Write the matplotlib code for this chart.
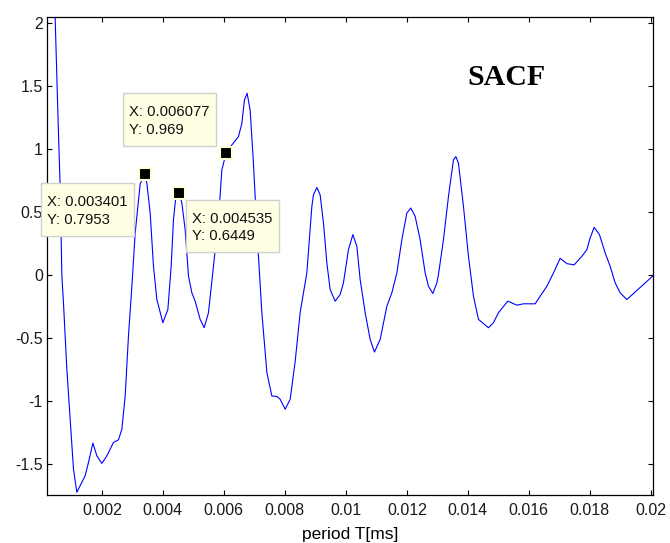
import matplotlib
matplotlib.use("Agg")
import matplotlib.pyplot as plt
from matplotlib.ticker import FuncFormatter
from matplotlib.patches import Rectangle
from matplotlib.transforms import IdentityTransform

plt.rcParams['font.family'] = ['Liberation Sans', 'DejaVu Sans']
plt.rcParams['axes.unicode_minus'] = False

# SACF curve (period in ms, value)
period = [
    0.0002, 0.000469, 0.000577, 0.000633, 0.000689, 0.000741, 0.000852, 0.000961,
    0.001069, 0.00118, 0.001344, 0.001452, 0.001561, 0.001705, 0.001836, 0.002,
    0.002164, 0.00238, 0.002544, 0.002656, 0.002764, 0.002872, 0.002984, 0.003092,
    0.003256, 0.003401, 0.003475, 0.003584, 0.003692, 0.003803, 0.004, 0.004164,
    0.004272, 0.004348, 0.004426, 0.004535, 0.004623, 0.004731, 0.00484, 0.004951,
    0.005059, 0.005223, 0.005354, 0.005495, 0.005659, 0.005823, 0.005934, 0.006077,
    0.006262, 0.006479, 0.00659, 0.006675, 0.006764, 0.006862, 0.00697, 0.007082,
    0.007246, 0.00741, 0.007574, 0.007738, 0.007846, 0.00801, 0.008174, 0.008338,
    0.008502, 0.008721, 0.008885, 0.008938, 0.009049, 0.009157, 0.009266, 0.009377,
    0.009485, 0.009649, 0.009813, 0.009921, 0.010085, 0.01023, 0.010361, 0.010469,
    0.010633, 0.010797, 0.010938, 0.011125, 0.011344, 0.011508, 0.011672, 0.011836,
    0.012, 0.012131, 0.012272, 0.012436, 0.0126, 0.012708, 0.012852, 0.012984,
    0.013036, 0.0132, 0.013364, 0.013528, 0.013607, 0.013692, 0.013856, 0.01402,
    0.014184, 0.014348, 0.014675, 0.014839, 0.015003, 0.015311, 0.015607, 0.015823,
    0.016207, 0.01637, 0.01659, 0.016807, 0.017026, 0.017246, 0.017485, 0.017738,
    0.017902, 0.01801, 0.018141, 0.018315, 0.018502, 0.018666, 0.01883, 0.018993,
    0.019213, 0.02007,
]
sacf = [
    4.0, 2.032, 1.122, 0.699, -0.013, -0.224, -0.752, -1.148,
    -1.544, -1.728, -1.649, -1.597, -1.491, -1.338, -1.439, -1.499,
    -1.439, -1.333, -1.312, -1.227, -0.964, -0.489, -0.093, 0.33,
    0.72, 0.7953, 0.726, 0.489, 0.066, -0.198, -0.382, -0.277,
    0.066, 0.435, 0.62, 0.6449, 0.568, 0.356, -0.013, -0.145,
    -0.211, -0.356, -0.422, -0.303, 0.066, 0.435, 0.831, 0.969,
    1.029, 1.095, 1.201, 1.386, 1.439, 1.306, 0.884, 0.356,
    -0.303, -0.778, -0.964, -0.968, -0.99, -1.069, -0.99, -0.69,
    -0.3, 0.013, 0.541, 0.633, 0.691, 0.633, 0.409, 0.093,
    -0.119, -0.211, -0.158, -0.066, 0.198, 0.317, 0.224, -0.04,
    -0.303, -0.515, -0.615, -0.515, -0.251, -0.145, 0.013, 0.277,
    0.489, 0.528, 0.462, 0.277, 0.013, -0.093, -0.15, -0.066,
    0.0, 0.277, 0.62, 0.911, 0.937, 0.884, 0.541, 0.145,
    -0.172, -0.356, -0.422, -0.382, -0.303, -0.211, -0.243, -0.232,
    -0.232, -0.172, -0.093, 0.013, 0.129, 0.087, 0.077, 0.145,
    0.198, 0.291, 0.375, 0.317, 0.172, 0.066, -0.066, -0.145,
    -0.198, -0.01,
]

# data cursor points
cursor_x = [0.003401, 0.004535, 0.006077]
cursor_y = [0.7953, 0.6449, 0.969]
cursor_offsets = [(-70, -15), (9.4, -13.5), (-69.8, 34)]

x_ticks = [0.002, 0.004, 0.006, 0.008, 0.01, 0.012, 0.014, 0.016, 0.018, 0.02]
y_ticks = [-1.5, -1, -0.5, 0, 0.5, 1, 1.5, 2]

fig = plt.figure(figsize=(6.7, 5.43), dpi=100)
ax = fig.add_axes([0.0701, 0.0884, 0.9045, 0.8803])

ax.plot(period, sacf, color='#0000ff', linewidth=0.8)

labels = []
for cx, cy, off in zip(cursor_x, cursor_y, cursor_offsets):
    ax.plot(cx, cy, marker='s', markersize=8, color='black',
            markeredgecolor='#ffffd8', markeredgewidth=1.5, zorder=5)
    t = ax.annotate('X: %g\nY: %g' % (cx, cy), xy=(cx, cy), xytext=off,
                    textcoords='offset points', ha='left', va='top',
                    fontsize=10.7, linespacing=1.3, color='#111111',
                    annotation_clip=False, zorder=7)
    labels.append(t)

ax.text(0.01397, 1.504, 'SACF', family=['Liberation Serif', 'DejaVu Serif'],
        fontsize=21.5, fontweight='bold', ha='left', va='baseline')

ax.set_xlim(0.0002, 0.02007)
ax.set_ylim(-1.75, 2.045)
ax.set_xticks(x_ticks)
ax.set_yticks(y_ticks)
fmt = FuncFormatter(lambda v, p: '%g' % v)
ax.xaxis.set_major_formatter(fmt)
ax.yaxis.set_major_formatter(fmt)
ax.tick_params(direction='in', length=3.6, width=0.8, top=True, right=True,
               labelsize=11.5, colors='black', labelcolor='#1a1a1a')
ax.tick_params(axis='y', pad=3)
ax.tick_params(axis='x', pad=6)
ax.set_xlabel('period T[ms]', fontsize=12.5, labelpad=6)
for s in ax.spines.values():
    s.set_linewidth(0.9)

# boxes behind the cursor labels, padded in pixels
fig.canvas.draw()
r = fig.canvas.get_renderer()
for t in labels:
    bb = t.get_window_extent(r)
    ax.add_patch(Rectangle((bb.x0 - 6.5, bb.y0 - 9), bb.width + 13, bb.height + 21,
                           transform=IdentityTransform(), facecolor='#ffffe4',
                           edgecolor='#d0d0d0', linewidth=1.0, clip_on=False, zorder=6))

fig.savefig('out.png', dpi=100)
